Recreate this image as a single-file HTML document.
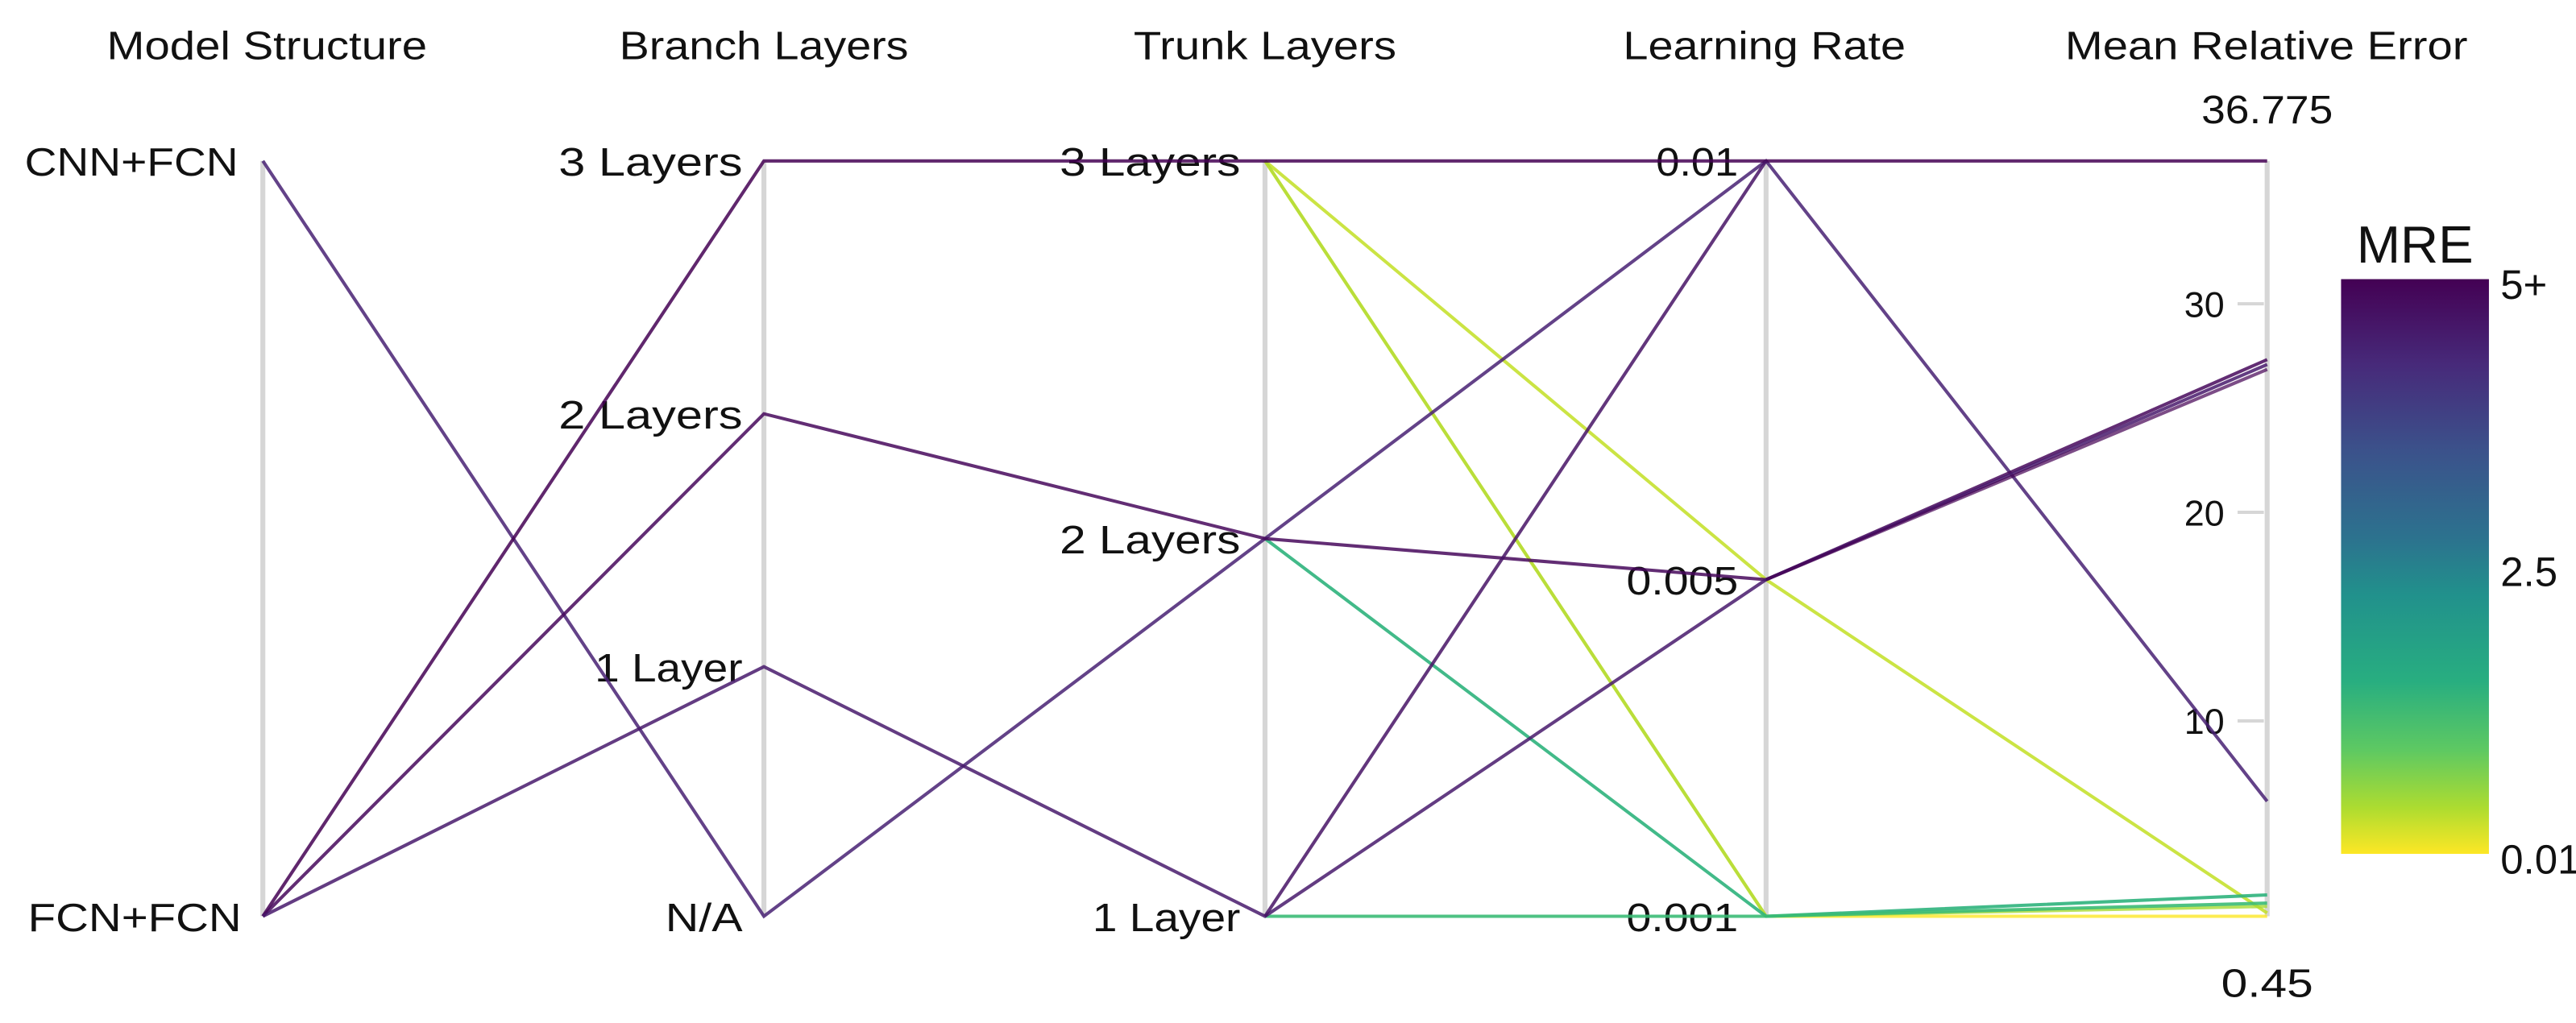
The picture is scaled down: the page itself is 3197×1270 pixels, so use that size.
<!DOCTYPE html>
<html><head><meta charset="utf-8"><style>html,body{margin:0;padding:0;background:#fff}svg{display:block}</style></head>
<body>
<svg width="3197" height="1270" viewBox="0 0 1568 623" preserveAspectRatio="none" xmlns="http://www.w3.org/2000/svg" font-family="Liberation Sans, Arial, sans-serif">
<defs>
<linearGradient id="vir" x1="0" y1="0" x2="0" y2="1">
<stop offset="0" stop-color="#440154"/><stop offset="0.15" stop-color="#472a7a"/><stop offset="0.3" stop-color="#3b528b"/><stop offset="0.45" stop-color="#2c728e"/><stop offset="0.55" stop-color="#21918c"/><stop offset="0.7" stop-color="#28ae80"/><stop offset="0.82" stop-color="#5ec962"/><stop offset="0.92" stop-color="#addc30"/><stop offset="1" stop-color="#fde725"/>
</linearGradient>
</defs>
<rect width="1568" height="623" fill="#fff"/>
<g font-size="24" fill="#111" lengthAdjust="spacingAndGlyphs">
<text x="65" y="36" textLength="195" lengthAdjust="spacingAndGlyphs">Model Structure</text>
<text x="377" y="36" textLength="176" lengthAdjust="spacingAndGlyphs">Branch Layers</text>
<text x="690" y="36" textLength="160" lengthAdjust="spacingAndGlyphs">Trunk Layers</text>
<text x="988" y="36" textLength="172" lengthAdjust="spacingAndGlyphs">Learning Rate</text>
<text x="1257" y="36" textLength="245" lengthAdjust="spacingAndGlyphs">Mean Relative Error</text>
<text x="1340" y="75" textLength="80" lengthAdjust="spacingAndGlyphs">36.775</text>
<text x="1352" y="607" textLength="56" lengthAdjust="spacingAndGlyphs">0.45</text>
</g>
<g stroke="#d6d6d6" stroke-width="3">
<line x1="160" y1="98" x2="160" y2="558"/><line x1="465" y1="98" x2="465" y2="558"/><line x1="770" y1="98" x2="770" y2="558"/><line x1="1075" y1="98" x2="1075" y2="558"/><line x1="1380" y1="98" x2="1380" y2="558"/>
<line x1="1362" y1="185" x2="1378" y2="185" stroke-width="2"/><line x1="1362" y1="312" x2="1378" y2="312" stroke-width="2"/><line x1="1362" y1="439" x2="1378" y2="439" stroke-width="2"/>
</g>
<g font-size="24" fill="#111">
<text x="15" y="107" textLength="130" lengthAdjust="spacingAndGlyphs">CNN+FCN</text>
<text x="17" y="567" textLength="130" lengthAdjust="spacingAndGlyphs">FCN+FCN</text>
<text x="340" y="107" textLength="112" lengthAdjust="spacingAndGlyphs">3 Layers</text>
<text x="340" y="261" textLength="112" lengthAdjust="spacingAndGlyphs">2 Layers</text>
<text x="362" y="415" textLength="90" lengthAdjust="spacingAndGlyphs">1 Layer</text>
<text x="405" y="567" textLength="47" lengthAdjust="spacingAndGlyphs">N/A</text>
<text x="645" y="107" textLength="110" lengthAdjust="spacingAndGlyphs">3 Layers</text>
<text x="645" y="337" textLength="110" lengthAdjust="spacingAndGlyphs">2 Layers</text>
<text x="665" y="567" textLength="90" lengthAdjust="spacingAndGlyphs">1 Layer</text>
<text x="1008" y="107" textLength="50" lengthAdjust="spacingAndGlyphs">0.01</text>
<text x="990" y="362" textLength="68" lengthAdjust="spacingAndGlyphs">0.005</text>
<text x="990" y="567" textLength="68" lengthAdjust="spacingAndGlyphs">0.001</text>
</g>
<g font-size="22" fill="#111" text-anchor="end">
<text x="1354" y="193">30</text><text x="1354" y="320">20</text><text x="1354" y="447">10</text>
</g>
<g fill="none" stroke-width="2">
<polyline stroke="#fde725" opacity="0.8" points="770,98 1075,558 1380,558"/>
<polyline stroke="#c2df23" opacity="0.85" points="770,98 1075,353 1380,556"/>
<polyline stroke="#a8db34" opacity="0.8" points="770,98 1075,558 1380,552"/>
<polyline stroke="#2eb37c" opacity="0.9" points="770,328 1075,558 1380,545"/>
<polyline stroke="#3bbb75" opacity="0.9" points="770,558 1075,558 1380,550"/>
<polyline stroke="#482173" opacity="0.85" points="160,98 465,558 1075,98 1380,488"/>
<polyline stroke="#440154" opacity="0.85" points="160,558 465,98 770,98 1075,98 1380,98"/>
<polyline stroke="#46085c" opacity="0.85" points="160,558 465,252 770,328 1075,353 1380,219"/>
<polyline stroke="#481a6c" opacity="0.85" points="160,558 465,406 770,558 1075,353 1380,222"/>
<polyline stroke="#471365" opacity="0.85" points="770,558 1075,98"/>
<polyline stroke="#440154" opacity="0.7" points="1075,353 1380,225"/>
</g>
<rect x="1425" y="170" width="90" height="350" fill="url(#vir)"/>
<g fill="#111">
<text x="1470" y="160" font-size="32" text-anchor="middle">MRE</text>
<text x="1522" y="182" font-size="25">5+</text>
<text x="1522" y="357" font-size="25">2.5</text>
<text x="1522" y="532" font-size="25">0.01</text>
</g>
</svg>
</body></html>
